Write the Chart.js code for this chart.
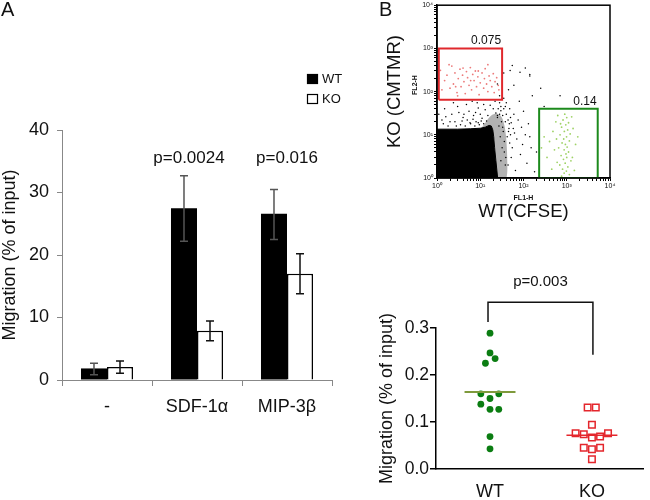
<!DOCTYPE html>
<html><head><meta charset="utf-8">
<script src="https://cdn.jsdelivr.net/npm/chart.js@4.4.0/dist/chart.umd.min.js"></script>
<style>
html,body{margin:0;padding:0;background:#fff;width:650px;height:500px;overflow:hidden;}
.c{position:absolute;}
</style></head><body>
<div class="c" style="left:0;top:0;"><canvas id="a" width="350" height="440"></canvas></div>
<div class="c" style="left:340px;top:0;"><canvas id="b1" width="310" height="240"></canvas></div>
<div class="c" style="left:340px;top:240px;"><canvas id="b2" width="310" height="260"></canvas></div>
<script>
// ---------- Panel A data ----------
const categoriesA = ['-', 'SDF-1\u03b1', 'MIP-3\u03b2'];
const wtMean = [1.85, 27.5, 26.6];
const wtLow  = [0.85, 22.2, 22.5];
const wtHigh = [2.7, 32.7, 30.5];
const koMean = [2.1, 7.9, 17.0];
const koLow  = [1.1, 6.3, 13.8];
const koHigh = [3.05, 9.45, 20.2];
const pLabelsA = ['', 'p=0.0024', 'p=0.016'];
const yTicksA = [0, 10, 20, 30, 40];

// ---------- Panel B (flow) data: [FL1-H, FL2-H] ----------
const flowDecades = [1, 10, 100, 1000, 10000];
const flowTickLabels = ['10\u2070', '10\u00b9', '10\u00b2', '10\u00b3', '10\u2074'];
const redGate = [[1.1,65],[32,65],[32,1000],[1.1,1000],[1.1,65]];
const greenGate = [[230,1],[5200,1],[5200,40],[230,40],[230,1]];
const redGateLabel = '0.075';
const greenGateLabel = '0.14';
const denseCore = [[1,1],[1,13.5],[3,13.5],[6,13.8],[10,14.2],[13,15],[16,16.5],[18,16],[19.5,13],[20.5,9],[21.5,5],[23,2.5],[25,1.1],[25,1],[1,1]];
const denseHalo = [[11,15],[14,21],[18,28],[23,31],[28,29],[33,23],[37,15],[40,8],[42,3],[40,1],[25,1],[20,10],[11,15]];
const redCells = [[1.2,310],[1.5,180],[1.7,240],[2.0,120],[2.2,390],[2.4,150],[2.6,270],[2.9,95],[3.1,200],[3.4,330],[3.6,130],[3.9,240],[4.2,170],[4.5,90],[4.8,290],[5.1,210],[5.5,140],[5.9,360],[6.3,110],[6.7,250],[7.2,180],[7.7,300],[8.2,130],[8.8,220],[9.4,85],[10,160],[11,270],[12,120],[12.5,200],[13,340],[14,150],[15,100],[16,230],[17,180],[18.5,130],[20,260],[21,95],[22,170],[24,210],[26,140],[1.3,110],[1.9,420],[3.0,80],[6.0,180],[9.0,300],[15,420],[27,110],[1.1,200],[2.7,130],[4.0,350]];
const greenCells = [[900,30],[1000,25],[820,22],[1100,19],[950,17],[760,15],[1050,13],[880,12],[1200,10.5],[700,10],[990,9],[850,8],[1150,7.2],[780,6.5],[930,6],[1020,5.2],[650,5],[870,4.5],[1100,4],[960,3.6],[740,3.3],[1000,3],[840,2.7],[1250,2.5],[920,2.2],[690,2.0],[1060,1.8],[800,1.6],[980,1.45],[870,1.3],[1150,1.2],[760,1.1],[560,20],[480,12],[400,7],[520,4.5],[350,3],[600,2.3],[450,1.6],[300,9],[1400,14],[1600,6],[1350,3],[1500,1.5],[620,28],[1300,26],[720,18],[580,8],[1800,9],[260,5]];
const blackCells = [[1.5,40],[2.2,30],[3.0,45],[4.0,25],[5.5,35],[7.0,28],[9.0,42],[11,24],[2.6,20],[6.0,18],[1.3,22],[4.8,50],[8.5,55],[13,38],[17,48],[22,60],[30,45],[35,70],[40,55],[48,40],[60,30],[75,22],[90,15],[110,10],[70,8],[55,5],[85,3.5],[120,2.2],[65,1.5],[150,5],[45,12],[38,20],[26,40],[33,28],[50,25],[42,9],[36,4],[30,2.5],[58,14],[100,35],[80,60],[130,18],[160,80],[200,4],[180,1.4],[28,80],[25,150],[45,110],[60,140],[35,270],[55,400],[110,350],[140,230],[300,45],[250,120],[1.8,16],[3.5,17],[5,22],[8,20],[10,30],[12,50],[15,28],[20,40],[25,25],[28,55],[2.4,55],[6.5,60],[1.1,30],[3.2,33],[9.5,17],[38,2],[48,6.5],[62,11],[95,6],[140,9],[33,15],[52,19],[49,309],[83,280],[140,250],[700,80],[28,30],[31,20],[34,12],[36,7],[39,3],[27,16],[29,9],[32,5],[25,28],[23,32],[30,36],[35,40],[40,30],[44,22],[46,14],[50,10],[52,3],[44,2],[47,18],[38,45],[1.4,18],[2,20],[2.8,16],[3.8,21],[4.5,16],[5.8,19],[6.8,23],[7.5,16],[9,19],[10.5,21],[12,18],[14,21],[1.6,26],[4.2,30],[7.8,33]];

// ---------- Panel B (migration) data ----------
const categoriesB = ['WT', 'KO'];
const wtValues = [0.289, 0.247, 0.235, 0.225, 0.160, 0.160, 0.150, 0.138, 0.127, 0.127, 0.069, 0.043];
const wtSpread = [0, 0, 0.05, -0.045, -0.09, 0.086, 0, -0.09, 0, 0.086, 0, 0];
const koValues = [0.131, 0.131, 0.094, 0.076, 0.074, 0.067, 0.069, 0.076, 0.045, 0.042, 0.045, 0.021];
const koSpread = [-0.042, 0.038, 0, -0.16, -0.08, 0, 0.08, 0.158, -0.08, 0, 0.08, 0];
const wtMeanLine = 0.164;
const koMeanLine = 0.072;
const pLabelB = 'p=0.003';

const FONT = "'Liberation Sans', Arial, Helvetica, sans-serif";
Chart.defaults.font.family = FONT;
Chart.defaults.color = '#111';
const pt = a => a.map(([x, y]) => ({x, y}));

// ---------- Panel A ----------
const errorBars = {
  id: 'errorBars',
  afterDatasetsDraw(chart) {
    const ctx = chart.ctx, ys = chart.scales.y;
    chart.data.datasets.forEach((ds, i) => {
      chart.getDatasetMeta(i).data.forEach((bar, j) => {
        const x = bar.x, yh = ys.getPixelForValue(ds.highs[j]), yl = ys.getPixelForValue(ds.lows[j]);
        ctx.save();
        ctx.strokeStyle = ds.errColor; ctx.lineWidth = 1.5;
        ctx.beginPath();
        ctx.moveTo(x, yh); ctx.lineTo(x, yl);
        ctx.moveTo(x - 4, yh); ctx.lineTo(x + 4, yh);
        ctx.moveTo(x - 4, yl); ctx.lineTo(x + 4, yl);
        ctx.stroke(); ctx.restore();
      });
    });
  }
};
const annotA = {
  id: 'annotA',
  afterDraw(chart, args, opts) {
    const ctx = chart.ctx, xs = chart.scales.x, ys = chart.scales.y;
    ctx.save();
    ctx.fillStyle = '#111';
    ctx.font = '20px ' + FONT; ctx.textAlign = 'left'; ctx.textBaseline = 'alphabetic';
    ctx.fillText('A', 1, 16);
    ctx.font = '17px ' + FONT; ctx.textAlign = 'center'; ctx.textBaseline = 'middle';
    pLabelsA.forEach((t, i) => { if (t) ctx.fillText(t, xs.getPixelForValue(i) + opts.pShift[i], ys.getPixelForValue(opts.pY)); });
    const ds = chart.data.datasets;
    ds.forEach((d, i) => {
      const y = 74 + i * 20;
      ctx.fillStyle = d.backgroundColor; ctx.fillRect(307, y, 11, 10);
      ctx.strokeStyle = '#000'; ctx.lineWidth = 1.2; ctx.strokeRect(307.5, y + 0.5, 10, 9);
      ctx.fillStyle = '#111'; ctx.font = '13px ' + FONT; ctx.textAlign = 'left'; ctx.textBaseline = 'middle';
      ctx.fillText(d.label, 322, y + 5.5);
    });
    ctx.restore();
  }
};
new Chart(document.getElementById('a'), {
  type: 'bar',
  data: {
    labels: categoriesA,
    datasets: [
      {label: 'WT', data: wtMean, backgroundColor: '#000', borderColor: '#000', borderWidth: 0, lows: wtLow, highs: wtHigh, errColor: '#555'},
      {label: 'KO', data: koMean, backgroundColor: '#fff', borderColor: '#000', borderWidth: 1.5, borderSkipped: 'bottom', lows: koLow, highs: koHigh, errColor: '#111'}
    ]
  },
  options: {
    responsive: false, animation: false,
    layout: {padding: {left: 0, right: 18, top: 130, bottom: 0}},
    datasets: {bar: {barPercentage: 1, categoryPercentage: 0.578}},
    plugins: {legend: {display: false}, tooltip: {enabled: false}, annotA: {pY: 35.4, pShift: [0, -8, 0]}},
    scales: {
      x: {
        grid: {display: true, drawOnChartArea: false, drawTicks: true, tickLength: 6, color: '#888', offset: true},
        border: {display: true, color: '#888', width: 1},
        ticks: {font: {size: 18}, color: '#111', padding: 10, maxRotation: 0},
        afterFit: s => { s.height = 60; }
      },
      y: {
        min: 0, max: 40,
        afterBuildTicks: s => { s.ticks = yTicksA.map(v => ({value: v})); },
        ticks: {font: {size: 18}, color: '#111', padding: 8},
        grid: {drawOnChartArea: false, tickLength: 5, color: '#888'},
        border: {color: '#888', width: 1},
        title: {display: true, text: 'Migration (% of input)', font: {size: 18}, color: '#111', padding: {top: -1, bottom: 0}},
        afterFit: s => { s.width = 62; }
      }
    }
  },
  plugins: [errorBars, annotA]
});

// ---------- Panel B flow plot ----------
const logTicks = s => {
  const t = [];
  flowDecades.forEach((d, i) => {
    t.push({value: d});
    if (i < flowDecades.length - 1) for (let m = 2; m < 10; m++) t.push({value: d * m});
  });
  s.ticks = t;
};
const logLabel = v => { const i = flowDecades.indexOf(v); return i >= 0 ? flowTickLabels[i] : ''; };
const annotB1 = {
  id: 'annotB1',
  afterDraw(chart) {
    const ctx = chart.ctx, a = chart.chartArea, xs = chart.scales.x, ys = chart.scales.y;
    ctx.save();
    ctx.strokeStyle = '#000'; ctx.lineWidth = 1.5;
    ctx.strokeRect(a.left, a.top, a.right - a.left, a.bottom - a.top);
    ctx.fillStyle = '#111';
    ctx.font = '20px ' + FONT; ctx.textAlign = 'left'; ctx.textBaseline = 'alphabetic';
    ctx.fillText('B', 39, 16);
    ctx.font = 'bold 7px ' + FONT; ctx.textAlign = 'center'; ctx.textBaseline = 'middle';
    ctx.fillText('FL1-H', (a.left + a.right) / 2, 198);
    ctx.save(); ctx.translate(75, 85); ctx.rotate(-Math.PI / 2); ctx.fillText('FL2-H', 0, 0); ctx.restore();
    ctx.font = '12px ' + FONT; ctx.textAlign = 'right'; ctx.textBaseline = 'alphabetic';
    ctx.fillText(redGateLabel, xs.getPixelForValue(redGate[1][0]) - 1, ys.getPixelForValue(redGate[2][1]) - 4);
    ctx.fillText(greenGateLabel, xs.getPixelForValue(greenGate[1][0]) - 1, ys.getPixelForValue(greenGate[2][1]) - 4);
    ctx.restore();
  }
};
new Chart(document.getElementById('b1'), {
  type: 'scatter',
  data: {
    datasets: [
      {data: pt(redGate), showLine: true, borderColor: '#e0282c', borderWidth: 2, pointRadius: 0, tension: 0, order: 0},
      {data: pt(greenGate), showLine: true, borderColor: '#1c8a1c', borderWidth: 2, pointRadius: 0, tension: 0, order: 0},
      {data: pt(redCells), pointRadius: 0.9, backgroundColor: '#ec7b7b', borderWidth: 0, order: 1},
      {data: pt(greenCells), pointRadius: 0.9, backgroundColor: '#9fd266', borderWidth: 0, order: 1},
      {data: pt(blackCells), pointRadius: 0.75, backgroundColor: '#000', borderWidth: 0, order: 1},
      {data: pt(denseCore), showLine: true, fill: 'shape', backgroundColor: '#000', borderColor: '#000', borderWidth: 1, pointRadius: 0, tension: 0, order: 2},
      {data: pt(denseHalo), showLine: true, fill: 'shape', backgroundColor: 'rgba(0,0,0,0.3)', borderColor: 'rgba(0,0,0,0)', borderWidth: 0, pointRadius: 0, tension: 0.25, order: 3}
    ]
  },
  options: {
    responsive: false, animation: false,
    layout: {padding: {left: 0, right: 40, top: 5, bottom: 0}},
    plugins: {legend: {display: false}, tooltip: {enabled: false}},
    scales: {
      x: {
        type: 'logarithmic', min: 1, max: 10000,
        afterBuildTicks: logTicks,
        ticks: {autoSkip: false, maxRotation: 0, font: {size: 7}, color: '#111', padding: 1, callback: logLabel},
        grid: {drawOnChartArea: false, tickLength: 3, color: '#000'},
        border: {color: '#000', width: 1.5},
        title: {display: true, text: 'WT(CFSE)', font: {size: 18.5}, color: '#111', padding: {top: 0, bottom: 17}},
        afterFit: s => { s.height = 62; }
      },
      y: {
        type: 'logarithmic', min: 1, max: 10000,
        afterBuildTicks: logTicks,
        ticks: {autoSkip: false, font: {size: 7}, color: '#111', padding: 1, callback: logLabel},
        grid: {drawOnChartArea: false, tickLength: 3, color: '#000'},
        border: {color: '#000', width: 1.5},
        title: {display: true, text: 'KO (CMTMR)', font: {size: 18.5}, color: '#111', padding: {top: 44, bottom: 0}},
        afterFit: s => { s.width = 97; }
      }
    }
  },
  plugins: [annotB1]
});

// ---------- Panel B migration plot ----------
const bracketB = {
  id: 'bracketB',
  afterDraw(chart, args, o) {
    const ctx = chart.ctx, xs = chart.scales.x, ys = chart.scales.y;
    const x1 = xs.getPixelForValue(1) - 2, x2 = xs.getPixelForValue(2) + 1;
    const yt = ys.getPixelForValue(o.top);
    ctx.save();
    ctx.strokeStyle = '#111'; ctx.lineWidth = 1.5;
    ctx.beginPath();
    ctx.moveTo(x1, ys.getPixelForValue(o.leftEnd)); ctx.lineTo(x1, yt); ctx.lineTo(x2, yt); ctx.lineTo(x2, ys.getPixelForValue(o.rightEnd));
    ctx.stroke();
    ctx.fillStyle = '#111'; ctx.font = '15px ' + FONT; ctx.textAlign = 'center'; ctx.textBaseline = 'middle';
    ctx.fillText(pLabelB, (x1 + x2) / 2, ys.getPixelForValue(o.labelY));
    ctx.restore();
  }
};
new Chart(document.getElementById('b2'), {
  type: 'scatter',
  data: {
    datasets: [
      {label: 'WT', data: wtValues.map((v, i) => ({x: 1 + wtSpread[i], y: v})), pointStyle: 'circle', pointRadius: 3.4, backgroundColor: '#0b7d12', borderWidth: 0, order: 1},
      {label: 'KO', data: koValues.map((v, i) => ({x: 2 + koSpread[i], y: v})), pointStyle: 'rect', pointRadius: 4.6, backgroundColor: '#fff', borderColor: '#e4262c', borderWidth: 1.5, order: 1},
      {data: [{x: 0.75, y: wtMeanLine}, {x: 1.25, y: wtMeanLine}], showLine: true, borderColor: '#7f9a3c', borderWidth: 2, pointRadius: 0, order: 0},
      {data: [{x: 1.75, y: koMeanLine}, {x: 2.25, y: koMeanLine}], showLine: true, borderColor: '#e4262c', borderWidth: 1.5, pointRadius: 0, order: 0}
    ]
  },
  options: {
    responsive: false, animation: false,
    layout: {padding: {left: 0, right: 0, top: 88, bottom: 0}},
    plugins: {legend: {display: false}, tooltip: {enabled: false},
      bracketB: {top: 0.355, leftEnd: 0.313, rightEnd: 0.243, labelY: 0.398}},
    scales: {
      x: {
        type: 'linear', min: 0.47, max: 2.51,
        afterBuildTicks: s => { s.ticks = categoriesB.map((c, i) => ({value: i + 1})); },
        ticks: {font: {size: 18}, color: '#111', padding: 12, callback: v => categoriesB[Math.round(v) - 1]},
        grid: {display: false, drawTicks: false},
        border: {color: '#000', width: 1.5},
        afterFit: s => { s.height = 31; }
      },
      y: {
        min: 0, max: 0.3,
        ticks: {stepSize: 0.1, font: {size: 17.5}, color: '#111', padding: 1, callback: v => v.toFixed(1)},
        grid: {drawOnChartArea: false, tickLength: 6, color: '#000', lineWidth: 1.5},
        border: {color: '#000', width: 1.5},
        title: {display: true, text: 'Migration (% of input)', font: {size: 18}, color: '#111', padding: {top: 36, bottom: 0}},
        afterFit: s => { s.width = 96; }
      }
    }
  },
  plugins: [bracketB]
});
</script>
</body></html>
